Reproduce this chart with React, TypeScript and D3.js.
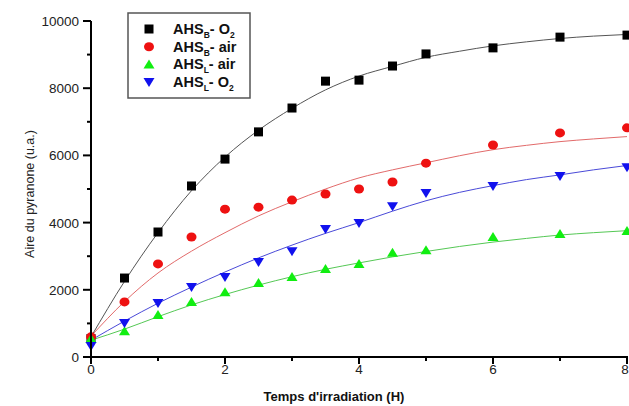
import * as d3 from "d3";

// hours of irradiation
const hours = [0, 0.5, 1, 1.5, 2, 2.5, 3, 3.5, 4, 4.5, 5, 6, 7, 8];

// measured peak areas (u.a.)
const ahsBO2 = [550, 2350, 3720, 5090, 5890, 6700, 7410, 8210, 8240, 8660, 9020, 9200, 9520, 9580];
const ahsBAir = [600, 1640, 2770, 3570, 4400, 4460, 4670, 4850, 5000, 5210, 5770, 6310, 6670, 6820];
const ahsLAir = [540, 770, 1250, 1640, 1930, 2200, 2380, 2620, 2770, 3100, 3180, 3570, 3660, 3750];
const ahsLO2 = [330, 1010, 1610, 2080, 2380, 2830, 3150, 3810, 3990, 4490, 4880, 5090, 5390, 5650];

// fitted curves, every half hour
const fitHours = [0, 0.5, 1, 1.5, 2, 2.5, 3, 3.5, 4, 4.5, 5, 5.5, 6, 6.5, 7, 7.5, 8];
const fitBO2 = [600, 2250, 3700, 4950, 5950, 6750, 7400, 7950, 8360, 8650, 8920, 9100, 9260, 9380, 9480, 9550, 9600];
const fitBAir = [620, 1650, 2500, 3150, 3700, 4200, 4620, 5000, 5330, 5570, 5780, 5990, 6170, 6300, 6410, 6490, 6560];
const fitLAir = [500, 830, 1200, 1550, 1860, 2140, 2390, 2610, 2800, 2980, 3140, 3290, 3420, 3530, 3630, 3700, 3760];
const fitLO2 = [500, 1070, 1600, 2080, 2530, 2950, 3330, 3680, 4000, 4340, 4650, 4900, 5100, 5280, 5420, 5570, 5700];

const xTicks = [0, 2, 4, 6, 8];
const xMinor = [1, 3, 5, 7];
const yTicks = [0, 2000, 4000, 6000, 8000, 10000];
const yMinor = [1000, 3000, 5000, 7000, 9000];

const font = "'Liberation Sans', Arial, sans-serif";

const series = [
    { sub: "B", gas: "O", gasSub: "2", data: ahsBO2, fit: fitBO2, color: "#000000", line: "#555555", shape: "square" },
    { sub: "B", gas: "air", gasSub: "", data: ahsBAir, fit: fitBAir, color: "#ee1111", line: "#e26a6a", shape: "circle" },
    { sub: "L", gas: "air", gasSub: "", data: ahsLAir, fit: fitLAir, color: "#11ee11", line: "#55c855", shape: "up" },
    { sub: "L", gas: "O", gasSub: "2", data: ahsLO2, fit: fitLO2, color: "#1111ee", line: "#4a4ad8", shape: "down" },
];

const Marker = ({ shape, cx, cy, color }) => {
    if (shape === "square") return <rect x={cx - 4.5} y={cy - 4.5} width={9} height={9} fill={color} />;
    if (shape === "circle") return <ellipse cx={cx} cy={cy} rx={5} ry={4.5} fill={color} />;
    if (shape === "up") return <path d={`M${cx},${cy - 5} L${cx + 5.5},${cy + 4} L${cx - 5.5},${cy + 4} Z`} fill={color} />;
    return <path d={`M${cx},${cy + 5} L${cx + 5.5},${cy - 4} L${cx - 5.5},${cy - 4} Z`} fill={color} />;
};

const App = () => {
    const width = 629;
    const height = 406;
    const x = d3.scaleLinear([0, 8], [91, 627]);
    const y = d3.scaleLinear([0, 10000], [357, 21]);

    const line = d3.line((d, i) => x(fitHours[i]), (d) => y(d)).curve(d3.curveMonotoneX);

    return (
        <svg width={width} height={height} style={{ position: "absolute", left: 0, top: 0 }}>
            <rect width={width} height={height} fill="white" />

            {/* fitted curves */}
            {series.map((s, i) => (
                <path key={i} d={line(s.fit)} fill="none" stroke={s.line} strokeWidth="1" />
            ))}

            {/* points */}
            {series.map((s, i) => (
                <g key={i}>
                    {s.data.map((d, j) => (
                        <Marker key={j} shape={s.shape} cx={x(hours[j])} cy={y(d)} color={s.color} />
                    ))}
                </g>
            ))}

            {/* axes */}
            <g stroke="#000" strokeWidth="2">
                <line x1={x(0)} x2={x(0)} y1={y(10000)} y2={y(0) + 1} />
                <line x1={x(0) - 1} x2={x(8) + 1} y1={y(0)} y2={y(0)} />
                {yTicks.map(t => <line key={t} x1={x(0) - 8} x2={x(0)} y1={y(t)} y2={y(t)} />)}
                {yMinor.map(t => <line key={t} x1={x(0) - 4} x2={x(0)} y1={y(t)} y2={y(t)} />)}
                {xTicks.map(t => <line key={t} x1={x(t)} x2={x(t)} y1={y(0)} y2={y(0) + 7} />)}
                {xMinor.map(t => <line key={t} x1={x(t)} x2={x(t)} y1={y(0)} y2={y(0) + 4} />)}
            </g>
            <g fontFamily={font} fontSize="13.5" fill="#222">
                {yTicks.map(t => (
                    <text key={t} x={x(0) - 12} y={y(t) + 5} textAnchor="end">{t}</text>
                ))}
                {xTicks.map(t => (
                    <text key={t} x={t === 8 ? x(t) - 2 : x(t)} y={y(0) + 17} textAnchor="middle">{t}</text>
                ))}
            </g>
            <text x={334} y={401} textAnchor="middle" fontFamily={font} fontWeight="bold" fontSize="13" fill="#111">
                Temps d'irradiation (H)
            </text>
            <text transform="translate(34,194) rotate(-90)" textAnchor="middle" fontFamily={font} fontSize="12.5" fill="#222">
                Aire du pyranone (u.a.)
            </text>

            {/* legend */}
            <rect x={128} y={13} width={122} height={85} fill="white" stroke="#555" strokeWidth="1.5" />
            {series.map((s, i) => {
                const ry = 29 + i * 17.7;
                return (
                    <g key={i}>
                        <Marker shape={s.shape} cx={149} cy={ry} color={s.color} />
                        <text x={173} y={ry + 5} fontFamily={font} fontWeight="bold" fontSize="14.5" fill="#111">
                            AHS<tspan fontSize="8.5" dy="4">{s.sub}</tspan>
                            <tspan dy="-4">- {s.gas}</tspan>
                            {s.gasSub && <tspan fontSize="8.5" dy="4">{s.gasSub}</tspan>}
                        </text>
                    </g>
                );
            })}
        </svg>
    );
};

export default App;
